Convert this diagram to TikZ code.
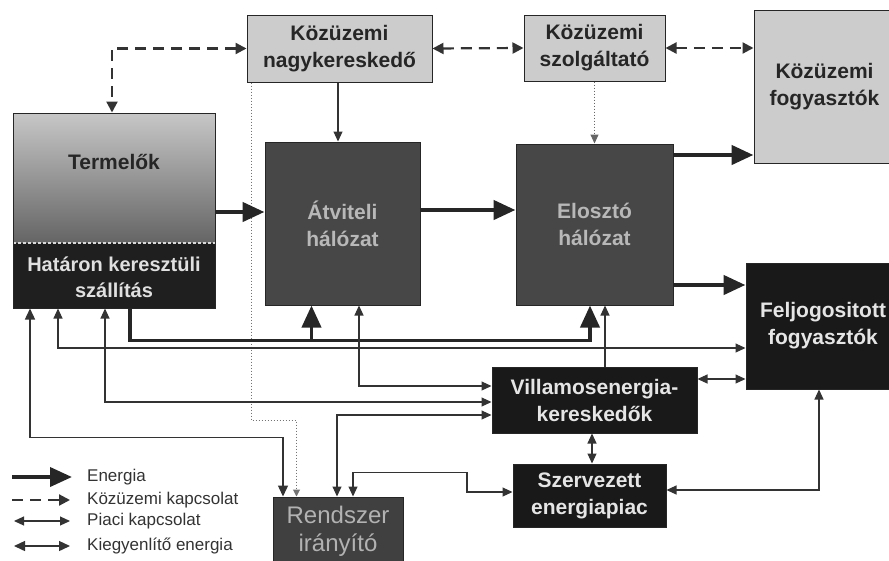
\documentclass[tikz,border=0pt]{standalone}
\usepackage{fontspec}
\setmainfont{Liberation Sans}
\usetikzlibrary{arrows.meta}

\begin{document}
\begin{tikzpicture}[x=1pt, y=-1pt,
    box/.style={draw=black!85, line width=1pt, align=center, inner sep=0pt,
      font=\bfseries\fontsize{21}{27}\selectfont},
    lightbox/.style={box, fill=black!20, text=black!85},
    greybox/.style={box, fill=black!72, text=black!28},
    darkbox/.style={box, fill=black!90, text=white!90!black},
    energia/.style={line width=4.5pt, black!85, -{Triangle[length=22pt,width=19pt]}},
    kozuzemi/.style={line width=2.2pt, black!80, dash pattern=on 11pt off 7pt,
      {Triangle[length=11pt,width=11pt]}-{Triangle[length=11pt,width=11pt]}},
    piaci/.style={line width=1.1pt, black!80,
      {Triangle[length=10pt,width=9pt]}-{Triangle[length=10pt,width=9pt]}},
    kiegy/.style={line width=1.4pt, black!80,
      {Triangle[length=11pt,width=10pt]}-{Triangle[length=11pt,width=10pt]}},
    legend/.style={anchor=west, inner sep=0pt, text=black!80,
      font=\fontsize{17}{19}\selectfont}]

  \useasboundingbox (0,0) rectangle (889,560);

  % boxes
  \node[lightbox, minimum width=185pt, minimum height=67pt] (nagyker) at (339.5,48.5) {Közüzemi\\nagykereskedő};
  \node[lightbox, minimum width=141pt, minimum height=66pt] (szolg) at (594.5,48) {Közüzemi\\szolgáltató};
  \node[lightbox, minimum width=141pt, minimum height=153pt, text width=141pt] (kozfogy) at (824.5,86.5) {Közüzemi\\fogyasztók};
  \node[draw=black!85, line width=1pt, inner sep=0pt, minimum width=202pt, minimum height=195pt,
    path picture={
      \shade[top color=black!22, bottom color=black!80]
        (path picture bounding box.north west) rectangle ([yshift=65pt]path picture bounding box.south east);
      \fill[black!88] ([yshift=65pt]path picture bounding box.south west) rectangle (path picture bounding box.south east);
      \draw[white!85!black, line width=1.2pt, dash pattern=on 3pt off 2pt]
        ([yshift=65pt]path picture bounding box.south west) -- ([yshift=65pt]path picture bounding box.south east);
    }] (termelo) at (114,210.5) {};
  \node[font=\bfseries\fontsize{21}{27}\selectfont, text=black!85] (termelo felso) at (114,162) {Termelők};
  \node[font=\bfseries\fontsize{20}{26}\selectfont, text=white!88!black, align=center] (termelo also) at (114,277) {Határon keresztüli\\szállítás};
  \node[greybox, minimum width=155pt, minimum height=163pt] (atviteli) at (342.5,223.5) {Átviteli\\hálózat};
  \node[greybox, minimum width=157pt, minimum height=161pt] (eloszto) at (594.5,224.5) {Elosztó\\hálózat};
  \node[darkbox, minimum width=154pt, minimum height=126pt] (feljog) at (823,326) {Feljogositott\\fogyasztók};
  \node[darkbox, minimum width=205pt, minimum height=66pt] (keresk) at (594.5,400) {Villamosenergia-\\kereskedők};
  \node[darkbox, minimum width=153pt, minimum height=63pt] (piac) at (589.5,495.5) {Szervezett\\energiapiac};
  \node[greybox, fill=black!75, text=black!30, minimum width=130pt, minimum height=69pt,
    font=\fontsize{24}{28}\selectfont] (rendszer) at (338,531.5) {Rendszer\\irányító};

  % közüzemi kapcsolatok
  \draw[kozuzemi] (nagyker.west) -| ([xshift=-2pt]termelo.north);
  \draw[kozuzemi] (nagyker.east) -- (szolg.west);
  \draw[kozuzemi] (szolg.east) -- (szolg.east -| kozfogy.west);
  \draw[line width=1.1pt, black!80, -{Triangle[length=10pt,width=9pt]}] ([xshift=-1.5pt]nagyker.south) -- ([xshift=-1.5pt]nagyker.south |- atviteli.north);
  \draw[line width=1pt, black!60, dotted, -{Triangle[length=9pt,width=8pt]}] (szolg.south) -- (szolg.south |- eloszto.north);
  \draw[line width=1pt, black!55, dotted, -{Triangle[length=7pt,width=7pt]}] ([xshift=5pt]nagyker.south west) -- ++(0,338) -| ([xshift=24pt]rendszer.north west);

  % energia
  \draw[energia] ([yshift=-1.5pt]termelo.east) -- ([yshift=-1.5pt]termelo.east -| atviteli.west);
  \draw[energia] ([yshift=13.5pt]atviteli.east) -- ([yshift=13.5pt]atviteli.east -| eloszto.west);
  \draw[energia] ([yshift=69.5pt]eloszto.east) -- ([yshift=69.5pt]eloszto.east -| kozfogy.west);
  \draw[energia] ([yshift=-60.5pt]eloszto.east) -- ([yshift=-60.5pt]eloszto.east -| feljog.west);
  \draw[energia, line width=3.8pt] ([xshift=16pt]termelo.south) -- ++(0,32) -| ([xshift=-4.5pt]eloszto.south);
  \draw[energia, line width=3.8pt] ([xshift=-31pt]atviteli.south) ++(0,35) -- ([xshift=-31pt]atviteli.south);

  % piaci kapcsolatok
  \draw[piaci] ([xshift=-56pt]termelo.south) |- ([yshift=-22pt]feljog.west);
  \draw[piaci] ([xshift=-9pt]termelo.south) |- ([yshift=-2pt]keresk.west);
  \draw[piaci] ([xshift=16.5pt]atviteli.south) |- ([yshift=14pt]keresk.west);
  \draw[piaci, {Triangle[length=10pt,width=9pt]}-] ([xshift=10.5pt]eloszto.south) -- ([xshift=10.5pt]eloszto.south |- keresk.north);
  \draw[piaci] ([yshift=21pt]keresk.east) -- ([yshift=21pt]keresk.east -| feljog.west);
  \draw[piaci] ([xshift=-2.5pt]keresk.south) -- ([xshift=-2.5pt]keresk.south |- piac.north);
  \draw[piaci] ([xshift=-1pt]rendszer.north) |- ([yshift=-15pt]keresk.west);
  \draw[piaci] ([xshift=15pt]rendszer.north) -- ++(0,-24) -- ++(114,0) |- ([yshift=3.5pt]piac.west);
  \draw[piaci] ([yshift=5.5pt]piac.east) -| ([xshift=-4pt]feljog.south);

  % kiegyenlítő energia
  \draw[kiegy] ([xshift=-84pt]termelo.south) -- ++(0,129) -| ([xshift=-55pt]rendszer.north);

  % jelmagyarázat
  \node[legend] (leg energia) at (87,477) {Energia};
  \node[legend] (leg kozuzemi) at (87,500) {Közüzemi kapcsolat};
  \node[legend] (leg piaci) at (87,521) {Piaci kapcsolat};
  \node[legend] (leg kiegy) at (87,546) {Kiegyenlítő energia};
  \draw[energia, line width=3.8pt] ([xshift=-75pt]leg energia.west) -- ([xshift=-15pt]leg energia.west);
  \draw[kozuzemi, -{Triangle[length=11pt,width=11pt]}] ([xshift=-75pt]leg kozuzemi.west) -- ([xshift=-17pt]leg kozuzemi.west);
  \draw[piaci] ([xshift=-73pt]leg piaci.west) -- ([xshift=-17pt]leg piaci.west);
  \draw[kiegy] ([xshift=-73pt]leg kiegy.west) -- ([xshift=-17pt]leg kiegy.west);
\end{tikzpicture}
\end{document}
